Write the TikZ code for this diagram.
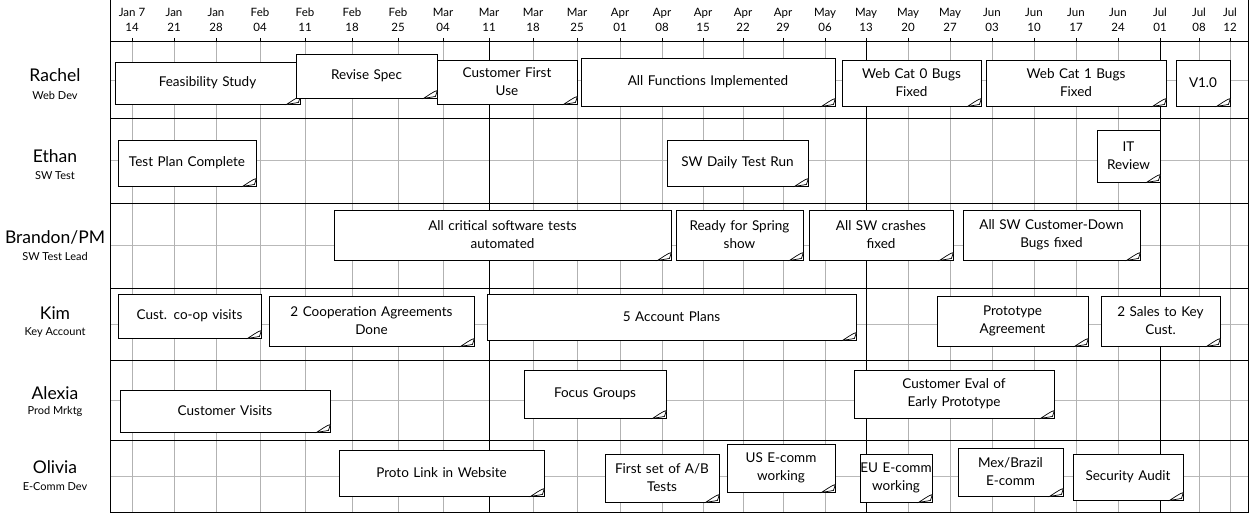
\documentclass[tikz,border=0pt]{standalone}
\usepackage{fontspec}
\setmainfont{Lato}
\begin{document}
\begin{tikzpicture}[x=1pt,y=-1pt,
  note/.style={draw,line width=0.9pt,fill=white,align=center,font=\fontsize{13.5}{18}\selectfont,inner sep=1pt},
  hdr/.style={font=\fontsize{11.5}{15.5}\selectfont,align=center},
  who/.style={font=\fontsize{17.5}{18}\selectfont},
  sub/.style={font=\fontsize{11}{12}\selectfont}]
\useasboundingbox (0,0) rectangle (1254,516);
\fill[white] (0,0) rectangle (1254,516);
% grid
\foreach \y in {80,160,245,324,400,476} \draw[gray!55,line width=0.5pt] (110,\y) -- (1248,\y);
\foreach \x/\a/\b [count=\i] in {132/Jan 7/14,174/Jan/21,216/Jan/28,260/Feb/04,305/Feb/11,352/Feb/18,398/Feb/25,443/Mar/04,489/Mar/11,533/Mar/18,577/Mar/25,620/Apr/01,662/Apr/08,703/Apr/15,743/Apr/22,783/Apr/29,825/May/06,866/May/13,908/May/20,950/May/27,992/Jun/03,1034/Jun/10,1076/Jun/17,1118/Jun/24,1160/Jul/01,1199/Jul/08,1230/Jul/12}{
  \node[hdr] (h\i) at (\x,20) {\a\\\b};
  \draw[gray!60,line width=0.5pt] (\x,42) -- (\x,512);
  \draw[line width=0.6pt] (\x,38) -- (\x,42);
}
\foreach \x in {489,866,1160} \draw[line width=1pt] (\x,42) -- (\x,512);
\foreach \y in {118,203,288,360,440} \draw[line width=0.9pt] (110,\y) -- (1248,\y);
\draw[line width=1pt] (110,42) -- (1248,42);
\draw[line width=1pt] (110,0) rectangle (1248,512);
% row labels
\node[who] (r1) at (55,75) {Rachel}; \node[sub] (s1) at (55,95) {Web Dev};
\node[who] (r2) at (55,156) {Ethan}; \node[sub] (s2) at (55,176) {SW Test};
\node[who] (r3) at (55,237) {Brandon/PM}; \node[sub] (s3) at (55,256) {SW Test Lead};
\node[who] (r4) at (55,313) {Kim}; \node[sub] (s4) at (55,333) {Key Account};
\node[who] (r5) at (55,393) {Alexia}; \node[sub] (s5) at (55,411) {Prod Mrktg};
\node[who] (r6) at (55,467) {Olivia}; \node[sub] (s6) at (55,487) {E-Comm Dev};
% notes
\foreach \x/\y/\X/\Y/\t [count=\i] in {
 115/62/300/104/{Feasibility Study},
 296/54/437/98/{Revise Spec\\[6pt]},
 437/60/577/104/{Customer First\\Use},
 581/58/835/106/{All Functions Implemented\\[6pt]},
 842/60/981/106/{Web Cat 0 Bugs\\Fixed},
 986/60/1166/106/{Web Cat 1 Bugs\\Fixed},
 1176/60/1230/106/{V1.0},
 118/140/256/186/{Test Plan Complete},
 667/140/808/186/{SW Daily Test Run},
 1097/130/1160/182/{IT\\Review},
 334/210/671/260/{All critical software tests\\automated\\[3pt]},
 676/210/803/260/{Ready for Spring\\show\\[3pt]},
 809/210/953/260/{All SW crashes\\fixed},
 963/210/1140/260/{All SW Customer-Down\\Bugs fixed\\[3pt]},
 118/294/261/338/{Cust. co-op visits},
 269/296/474/346/{2 Cooperation Agreements\\Done\\[2pt]},
 487/294/856/340/{5 Account Plans},
 937/296/1088/346/{Prototype\\Agreement},
 1101/296/1220/346/{2 Sales to Key\\Cust.},
 120/390/330/432/{Customer Visits},
 524/370/666/418/{Focus Groups\\[5pt]},
 854/370/1054/418/{Customer Eval of\\Early Prototype},
 339/450/544/496/{Proto Link in Website},
 605/454/719/502/{First set of A/B\\Tests},
 727/444/835/492/{US E-comm\\working},
 860/454/932/502/{\hbox to 0pt{\hss EU E-comm\hss}\\working},
 958/448/1063/496/{Mex/Brazil\\E-comm},
 1073/454/1183/500/{Security Audit}}{
  \node[note,minimum width={\X-\x},minimum height={\Y-\y},text width={\X-\x-4}] (n\i) at ({(\x+\X)/2},{(\y+\Y)/2}) {\t};
  \draw[line width=0.7pt,fill=white] ([xshift=-14pt]n\i.south east) .. controls +(5,-3) and +(-4,1) .. ([yshift=8pt]n\i.south east) -- ([xshift=-2pt,yshift=2pt]n\i.south east) -- cycle;
}
\end{tikzpicture}
\end{document}
